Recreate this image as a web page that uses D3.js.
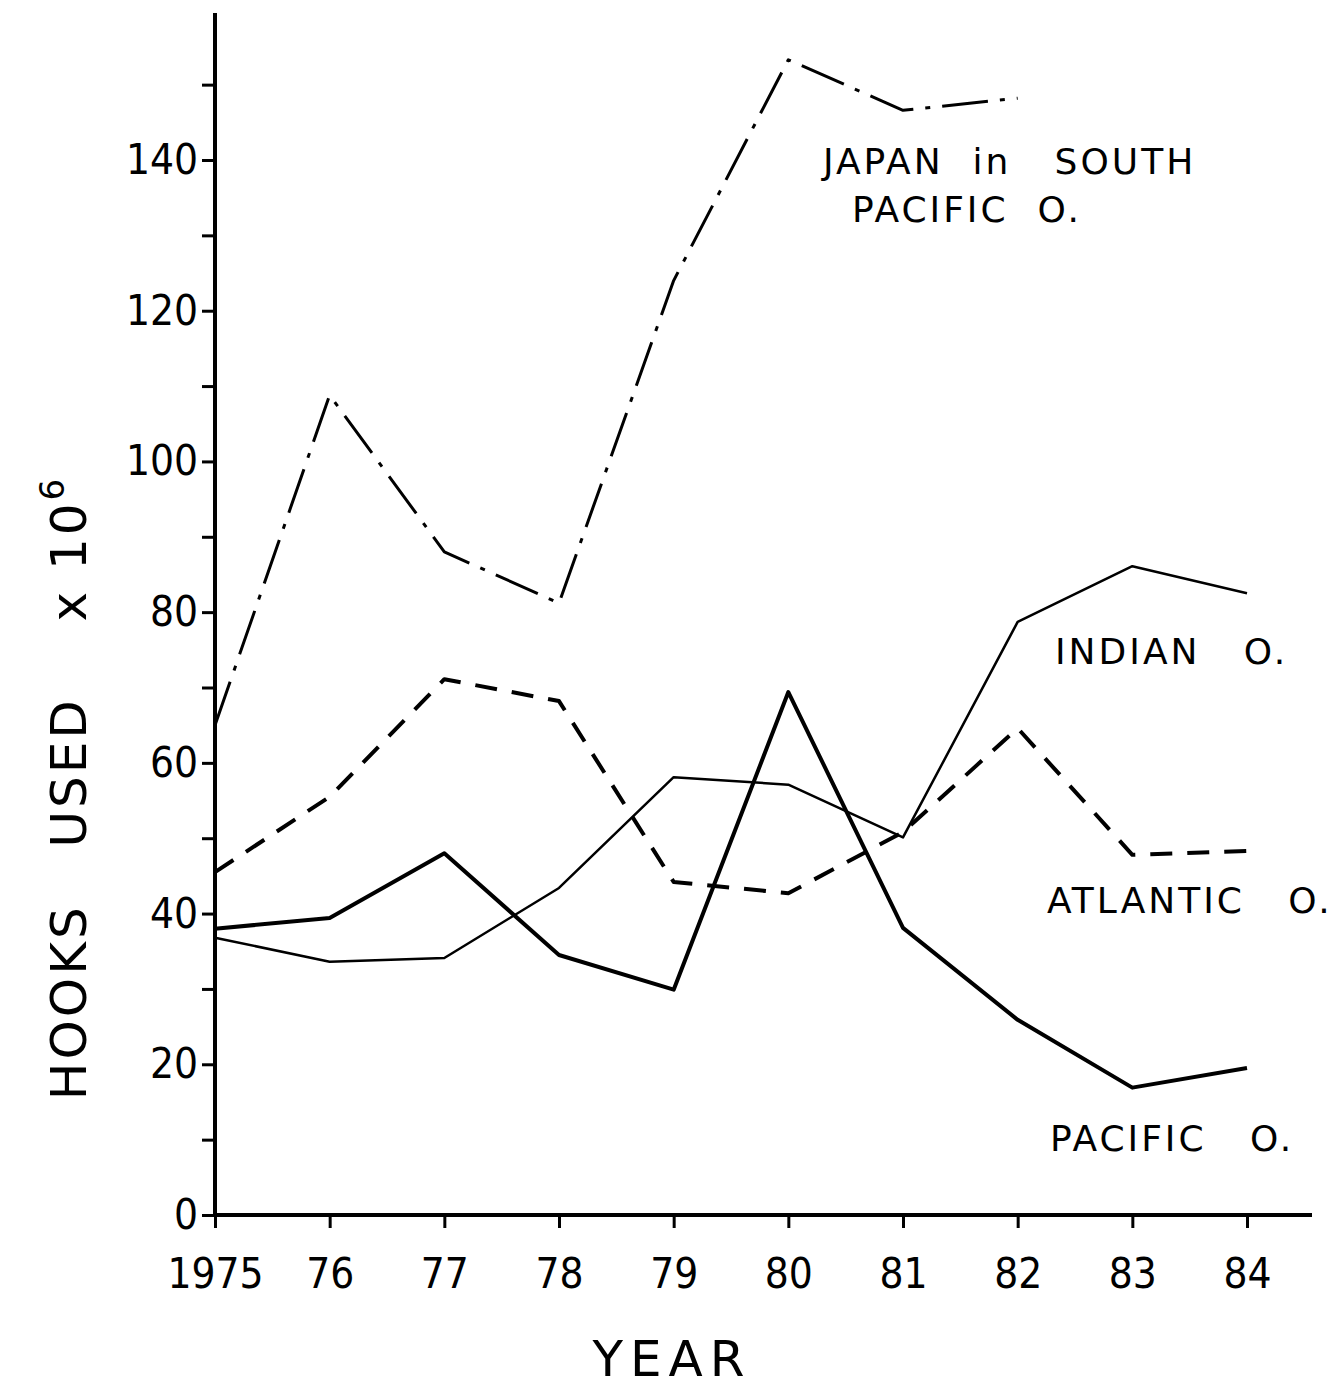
<!DOCTYPE html>
<html>
<head>
<meta charset="utf-8">
<script src="https://cdn.jsdelivr.net/npm/d3@7"></script>
<style>
  body { margin: 0; background: #fff; }
  svg text { font-family: "DejaVu Sans", "Liberation Sans", sans-serif; fill: #000; white-space: pre; }
</style>
</head>
<body>
<svg></svg>
<script>
const width = 1332;
const height = 1388;

const years = [1975, 1976, 1977, 1978, 1979, 1980, 1981, 1982, 1983, 1984];
const yearLabels = ['1975', '76', '77', '78', '79', '80', '81', '82', '83', '84'];

const japanSouthPacific = [65, 108.8, 88, 81.2, 124, 153.3, 146.6, 148.2];
const indianOcean = [36.8, 33.6, 34.1, 43.4, 58.1, 57.1, 50.1, 78.7, 86.1, 82.5];
const atlanticOcean = [45.5, 55.5, 71.1, 68.2, 44.2, 42.7, 50.8, 64.6, 47.8, 48.3];
const pacificOcean = [38, 39.4, 48, 34.5, 29.9, 69.4, 38.1, 25.9, 16.9, 19.5];

const yTicks = d3.range(0, 151, 10);

const svg = d3.select('svg')
	.attr('width', width)
	.attr('height', height);

const x = d3.scaleLinear()
	.domain([1975, 1984])
	.range([215, 1247]);

const y = d3.scaleLinear()
	.domain([0, 140])
	.range([1215, 160]);

// axes
const yAxis = d3.axisLeft(y)
	.tickValues(yTicks)
	.tickSize(13)
	.tickPadding(4)
	.tickFormat(d => d % 20 === 0 ? d : '');

const xAxis = d3.axisBottom(x)
	.tickValues(years)
	.tickSize(13)
	.tickPadding(30)
	.tickFormat((d, i) => yearLabels[i]);

const gy = svg.append('g')
	.attr('transform', `translate(${x(1975)},0)`)
	.call(yAxis);

const gx = svg.append('g')
	.attr('transform', `translate(0,${y(0)})`)
	.call(xAxis);

[gx, gy].forEach(g => {
	g.select('.domain').remove();
	g.selectAll('.tick line').attr('stroke', '#000').attr('stroke-width', 3);
	g.selectAll('.tick text')
		.attr('font-size', 42)
		.style('font-family', '"DejaVu Sans Condensed", "DejaVu Sans", sans-serif');
});
gx.selectAll('.tick text').attr('dy', '0.71em');

svg.append('line')
	.attr('x1', x(1975)).attr('x2', x(1975))
	.attr('y1', y(0) + 1).attr('y2', y(159.5))
	.attr('stroke', '#000').attr('stroke-width', 4);

svg.append('line')
	.attr('x1', x(1975) - 1).attr('x2', 1312)
	.attr('y1', y(0)).attr('y2', y(0))
	.attr('stroke', '#000').attr('stroke-width', 4);

// series
const line = d3.line()
	.x((d, i) => x(years[i]))
	.y(d => y(d));

const series = [
	{ values: japanSouthPacific, width: 3, dash: '46,12,5,12' },
	{ values: indianOcean, width: 2.5, dash: null },
	{ values: atlanticOcean, width: 4, dash: '22,15' },
	{ values: pacificOcean, width: 4, dash: null }
];

svg.selectAll('path.series')
	.data(series)
	.enter().append('path')
		.attr('class', 'series')
		.attr('d', d => line(d.values))
		.attr('fill', 'none')
		.attr('stroke', '#000')
		.attr('stroke-width', d => d.width)
		.attr('stroke-linejoin', 'round')
		.attr('stroke-dasharray', d => d.dash);

// labels
const labels = [
	{ text: 'JAPAN  in   SOUTH', x: 823, y: 174 },
	{ text: 'PACIFIC  O.', x: 852, y: 222 },
	{ text: 'INDIAN   O.', x: 1055, y: 664 },
	{ text: 'ATLANTIC   O.', x: 1047, y: 913 },
	{ text: 'PACIFIC   O.', x: 1050, y: 1151 }
];

svg.selectAll('text.label')
	.data(labels)
	.enter().append('text')
		.attr('class', 'label')
		.attr('x', d => d.x)
		.attr('y', d => d.y)
		.attr('font-size', 36)
		.attr('letter-spacing', 3)
		.text(d => d.text);

svg.append('text')
	.attr('x', 672)
	.attr('y', 1376)
	.attr('text-anchor', 'middle')
	.attr('font-size', 50)
	.attr('letter-spacing', 7)
	.text('YEAR');

const yTitle = svg.append('text')
	.attr('transform', 'translate(86,788) rotate(-90)')
	.attr('text-anchor', 'middle')
	.attr('font-size', 50)
	.attr('letter-spacing', 3);
yTitle.append('tspan').text('HOOKS   USED    x 10');
yTitle.append('tspan').attr('dy', -22).attr('font-size', 34).text('6');
</script>
</body>
</html>
